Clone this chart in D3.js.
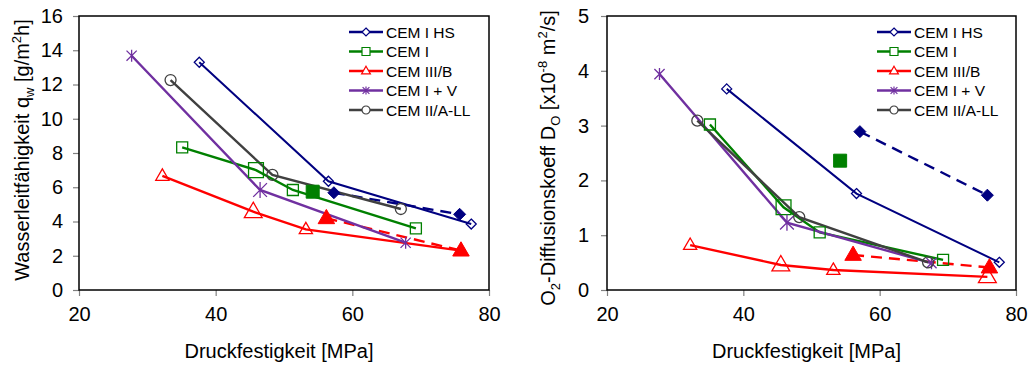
<!DOCTYPE html>
<html><head><meta charset="utf-8">
<script src="https://cdn.jsdelivr.net/npm/d3@7"></script>
<style>
body{margin:0;background:#fff;}
svg{display:block;font-family:"Liberation Sans",Arial,sans-serif;}
</style></head>
<body>
<svg id="chart" width="1030" height="365"></svg>
<script>
// ---------- data ----------
const seriesNames = ["CEM I HS","CEM I","CEM III/B","CEM I + V","CEM II/A-LL"];
const xTicks = [20,40,60,80];
const leftYTicks = [0,2,4,6,8,10,12,14,16];
const rightYTicks = [0,1,2,3,4,5];

// left: water conductivity q_w [g/m2h] vs compressive strength [MPa]
const qwHS   = [[37.6,13.3],[56.5,6.35],[77.4,3.85]];
const qwI    = [[35.1,8.33],[45.9,7.0],[51.3,5.84],[69.3,3.6]];
const qwIIIB = [[32.2,6.66],[45.5,4.57],[53.2,3.54],[75.9,2.3]];
const qwIV   = [[27.7,13.68],[46.5,5.84],[67.8,2.76]];
const qwIIA  = [[33.4,12.26],[48.3,6.72],[67.1,4.73]];
const qwHSfilled   = [[57.3,5.68],[75.7,4.42]];
const qwIfilled    = [[54.2,5.74]];
const qwIIIBfilled = [[56.2,4.19],[75.9,2.3]];

// right: O2 diffusion coefficient D_O [x10^-8 m2/s]
const doHS   = [[37.56,3.67],[56.6,1.76],[77.55,0.505]];
const doI    = [[35.1,3.02],[45.9,1.51],[51.2,1.05],[69.3,0.55]];
const doIIIB = [[32.2,0.82],[45.5,0.456],[53.2,0.365],[75.8,0.24]];
const doIV   = [[27.7,3.94],[46.4,1.23],[67.6,0.49]];
const doIIA  = [[33.25,3.09],[48.2,1.33],[67.1,0.505]];
const doHSfilled   = [[57.1,2.89],[75.8,1.73]];
const doIfilled    = [[54.2,2.36]];
const doIIIBfilled = [[56.1,0.64],[76.1,0.41]];

// ---------- styles ----------
const colors = ["#000080","#008000","#FF0000","#7030A0","#404040"];
const shapes = ["diamond","square","triangle","star","circle"];
// indices of points drawn with an enlarged marker
const bigLeft  = [[],[1],[1],[1],[]];
const bigRight = [[],[1],[1,3],[1],[]];

const svg = d3.select("#chart");

function markerPath(shape, s){
  const r = s/2;
  switch(shape){
    case "diamond": return `M0,${-r}L${r},0L0,${r}L${-r},0Z`;
    case "square": return `M${-r},${-r}H${r}V${r}H${-r}Z`;
    case "triangle": { const h=s*0.95; return `M0,${-h*0.62}L${r*1.1},${h*0.38}L${-r*1.1},${h*0.38}Z`; }
    case "circle": return d3.arc()({innerRadius:0,outerRadius:r,startAngle:0,endAngle:2*Math.PI});
    case "star": { const a=r*0.85; return `M${-a},${-a}L${a},${a}M${-a},${a}L${a},${-a}M0,${-r}V${r}`; }
  }
}
const baseSize = {diamond:10,square:11,triangle:12,star:12,circle:11};

function drawChart(cfg){
  const g = svg.append("g");
  const x = d3.scaleLinear().domain([20,80]).range([cfg.left,cfg.right]);
  const y = d3.scaleLinear().domain([0,cfg.yMax]).range([290,16]);

  // axes
  const xa = g.append("g").attr("transform","translate(0,290)")
    .call(d3.axisBottom(x).tickValues(xTicks).tickSize(6).tickPadding(11).tickFormat(d3.format("d")));
  const ya = g.append("g").attr("transform",`translate(${cfg.left},0)`)
    .call(d3.axisLeft(y).tickValues(cfg.yTicks).tickSize(6).tickPadding(cfg.yPad).tickFormat(d3.format("d")));
  [xa,ya].forEach(a=>{
    a.select(".domain").remove();
    a.selectAll(".tick line").attr("stroke","#808080").attr("stroke-width",1.2);
    a.selectAll(".tick text").attr("font-size",20).attr("fill","#000")
      .attr("font-family","'Liberation Sans',Arial,sans-serif");
  });

  g.append("rect").attr("x",cfg.left).attr("y",16)
    .attr("width",cfg.right-cfg.left).attr("height",274)
    .attr("fill","none").attr("stroke","#000").attr("stroke-width",1.5);

  const line = d3.line().x(d=>x(d[0])).y(d=>y(d[1]));

  // dashed comparison lines (filled markers)
  [[cfg.hsF,0],[cfg.iiibF,2]].forEach(([d,i])=>{
    g.append("path").attr("d",line(d)).attr("fill","none")
      .attr("stroke",colors[i]).attr("stroke-width",2.4).attr("stroke-dasharray","11,7");
  });

  // solid series
  cfg.series.forEach((d,i)=>{
    g.append("path").attr("d",line(d)).attr("fill","none")
      .attr("stroke",colors[i]).attr("stroke-width",i===0?2:2.4);
  });
  cfg.series.forEach((d,i)=>{
    g.selectAll(null).data(d).join("path")
      .attr("transform",p=>`translate(${x(p[0])},${y(p[1])})`)
      .attr("d",(p,k)=>markerPath(shapes[i], baseSize[shapes[i]]*(cfg.big[i].includes(k)?1.35:1)))
      .attr("fill","none").attr("stroke",colors[i]).attr("stroke-width",1.3);
  });

  // filled markers
  [[cfg.hsF,0,12],[cfg.iF,1,13],[cfg.iiibF,2,15]].forEach(([d,i,s])=>{
    g.selectAll(null).data(d).join("path")
      .attr("transform",p=>`translate(${x(p[0])},${y(p[1])})`)
      .attr("d",markerPath(shapes[i], s))
      .attr("fill",colors[i]).attr("stroke",colors[i]).attr("stroke-width",1);
  });

  // legend
  const lg = g.append("g");
  seriesNames.forEach((n,i)=>{
    const yy = 32 + i*19.5;
    lg.append("line").attr("x1",cfg.legX).attr("x2",cfg.legX+34).attr("y1",yy).attr("y2",yy)
      .attr("stroke",colors[i]).attr("stroke-width",2.4);
    lg.append("path").attr("transform",`translate(${cfg.legX+17},${yy})`)
      .attr("d",markerPath(shapes[i],8)).attr("fill","#fff").attr("stroke",colors[i]).attr("stroke-width",1.2);
    lg.append("text").attr("x",cfg.legX+37).attr("y",yy+5.5).attr("font-size",15.5).text(n);
  });

  // x title
  g.append("text").attr("x",(cfg.left+cfg.right)/2-5).attr("y",358).attr("text-anchor","middle")
    .attr("font-size",20).text("Druckfestigkeit [MPa]");
  // y title
  const yt = g.append("text").attr("transform",`translate(${cfg.yTitleX},${cfg.yTitleY}) rotate(-90)`)
    .attr("text-anchor","middle").attr("font-size",20);
  cfg.yTitle.forEach(([t,k])=>{
    const ts = yt.append("tspan").text(t);
    if(k==="sub") ts.attr("font-size",13).attr("dy",5);
    else if(k==="sup") ts.attr("font-size",13).attr("dy",-8);
    else if(k==="back") ts.attr("dy",-5);
    else if(k==="up") ts.attr("dy",8);
  });
}

drawChart({left:79,right:489,yMax:16,yTicks:leftYTicks,yPad:10,
  series:[qwHS,qwI,qwIIIB,qwIV,qwIIA],hsF:qwHSfilled,iF:qwIfilled,iiibF:qwIIIBfilled,
  big:bigLeft,legX:349,yTitleX:29,yTitleY:150,
  yTitle:[["Wasserleitfähigkeit q",""],["w","sub"],[" [g/m","back"],["2","sup"],["h]","up"]]});

drawChart({left:607,right:1016,yMax:5,yTicks:rightYTicks,yPad:12,
  series:[doHS,doI,doIIIB,doIV,doIIA],hsF:doHSfilled,iF:doIfilled,iiibF:doIIIBfilled,
  big:bigRight,legX:877,yTitleX:555,yTitleY:158,
  yTitle:[["O",""],["2","sub"],["-Diffusionskoeff D","back"],["O","sub"],[" [x10","back"],["-8","sup"],[" m","up"],["2","sup"],["/s]","up"]]});
</script>
</body></html>
